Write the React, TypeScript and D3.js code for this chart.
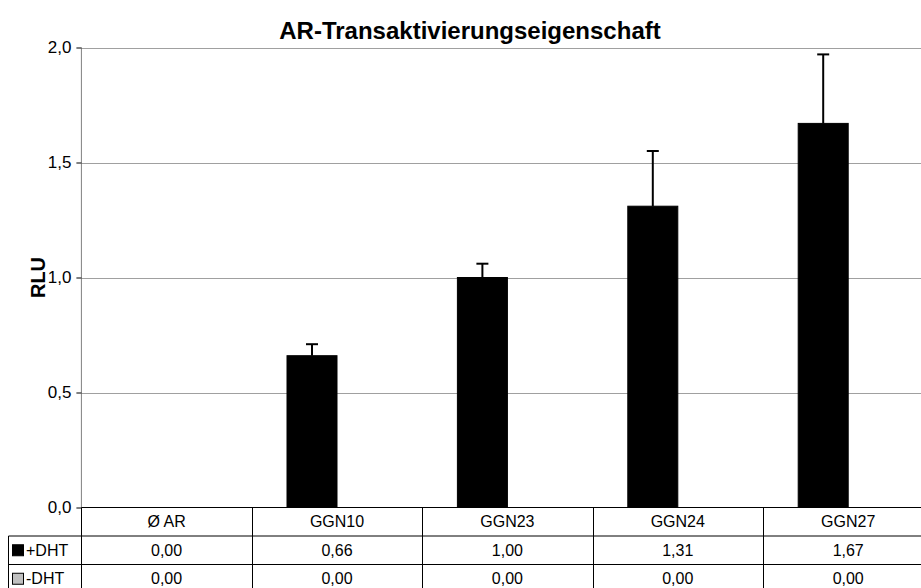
import React, { useEffect, useRef } from 'react';
import * as d3 from 'd3';

const categories = ['Ø AR', 'GGN10', 'GGN23', 'GGN24', 'GGN27'];
const seriesNames = ['+DHT', '-DHT'];
const plusDHT = [0.0, 0.66, 1.0, 1.31, 1.67];
const plusDHTErr = [0.0, 0.05, 0.06, 0.24, 0.3];
const minusDHT = [0.0, 0.0, 0.0, 0.0, 0.0];
const yTicks = [0, 0.5, 1.0, 1.5, 2.0];
const seriesColors = ['#000000', '#c0c0c0'];

const W = 921;
const H = 588;
const font = 'Arial, "Liberation Sans", sans-serif';

export default function App() {
  const ref = useRef<SVGSVGElement | null>(null);

  useEffect(() => {
    const svg = d3.select(ref.current);
    svg.selectAll('*').remove();

    const left = 81.4;
    const right = 933.4;
    const top = 47.5;
    const bottom = 507.5;
    const rowH = 28.5;
    const tableLeft = 8.5;

    const locale = d3.formatLocale({ decimal: ',', thousands: '.', grouping: [3], currency: ['', ''] });
    const fmt1 = locale.format('.1f');
    const fmt2 = locale.format('.2f');

    const x = d3.scaleBand<string>().domain(categories).range([left, right]).paddingInner(0).paddingOuter(0);
    const xs = d3.scaleBand<string>().domain(seriesNames).range([0, x.bandwidth()]).paddingInner(0).paddingOuter(0.704);
    const y = d3.scaleLinear().domain([0, 2]).range([bottom, top]);

    // gridlines
    svg.append('g')
      .selectAll('line')
      .data(yTicks.filter(d => d > 0))
      .enter()
      .append('line')
      .attr('x1', left)
      .attr('x2', right)
      .attr('y1', d => Math.round(y(d)) + 0.5)
      .attr('y2', d => Math.round(y(d)) + 0.5)
      .attr('stroke', '#a0a0a0')
      .attr('stroke-width', 1);

    // y axis
    const yAxis = d3.axisLeft(y).tickValues(yTicks).tickSize(5).tickPadding(5).tickFormat(d => fmt1(d as number));
    const ga = svg.append('g')
      .attr('transform', `translate(${left},0)`)
      .call(yAxis);
    ga.select('.domain').attr('stroke', '#808080').attr('d', `M0,${top}V${bottom}`);
    ga.selectAll('.tick line').attr('stroke', '#000');
    ga.selectAll('.tick text')
      .attr('font-family', font)
      .attr('font-size', 17)
      .attr('fill', '#000');

    // bars
    const series = [plusDHT, minusDHT];
    series.forEach((vals, si) => {
      svg.append('g')
        .selectAll('rect')
        .data(vals)
        .enter()
        .append('rect')
        .attr('x', (d, i) => (x(categories[i]) as number) + (xs(seriesNames[si]) as number))
        .attr('y', d => y(d))
        .attr('width', xs.bandwidth())
        .attr('height', d => y(0) - y(d))
        .attr('fill', seriesColors[si])
        .attr('stroke', '#000')
        .attr('stroke-width', 1);
    });

    // error bars (plus direction only)
    const eg = svg.append('g');
    plusDHT.forEach((v, i) => {
      const e = plusDHTErr[i];
      if (!e) return;
      const cx = (x(categories[i]) as number) + (xs('+DHT') as number) + xs.bandwidth() / 2;
      eg.append('line')
        .attr('x1', cx).attr('x2', cx)
        .attr('y1', y(v)).attr('y2', y(v + e))
        .attr('stroke', '#000').attr('stroke-width', 2);
      eg.append('line')
        .attr('x1', cx - 6).attr('x2', cx + 6)
        .attr('y1', y(v + e)).attr('y2', y(v + e))
        .attr('stroke', '#000').attr('stroke-width', 2);
    });

    // data table
    const tg = svg.append('g');
    const tableBottom = bottom + rowH * 3;
    tg.append('line')
      .attr('x1', left).attr('x2', right)
      .attr('y1', bottom).attr('y2', bottom)
      .attr('stroke', '#000');
    [1, 2].forEach(r => {
      tg.append('line')
        .attr('x1', tableLeft).attr('x2', right)
        .attr('y1', bottom + rowH * r).attr('y2', bottom + rowH * r)
        .attr('stroke', '#000');
    });
    tg.append('line')
      .attr('x1', tableLeft).attr('x2', tableLeft)
      .attr('y1', bottom + rowH).attr('y2', tableBottom)
      .attr('stroke', '#000');
    categories.concat(['end']).forEach((c, i) => {
      const xx = Math.round(left + x.bandwidth() * i) + 0.5;
      tg.append('line')
        .attr('x1', xx).attr('x2', xx)
        .attr('y1', bottom).attr('y2', tableBottom)
        .attr('stroke', '#000');
    });

    tg.selectAll('text.cat')
      .data(categories)
      .enter()
      .append('text')
      .attr('class', 'cat')
      .attr('x', d => (x(d) as number) + x.bandwidth() / 2)
      .attr('y', bottom + rowH / 2)
      .attr('dy', '0.35em')
      .attr('text-anchor', 'middle')
      .attr('font-family', font)
      .attr('font-size', 16)
      .text(d => d);

    series.forEach((vals, si) => {
      const ry = bottom + rowH * (si + 1) + rowH / 2;
      tg.append('g')
        .selectAll('text')
        .data(vals)
        .enter()
        .append('text')
        .attr('x', (d, i) => (x(categories[i]) as number) + x.bandwidth() / 2)
        .attr('y', ry)
        .attr('dy', '0.35em')
        .attr('text-anchor', 'middle')
        .attr('font-family', font)
        .attr('font-size', 16)
        .text(d => fmt2(d));

      // legend key
      tg.append('rect')
        .attr('x', 12.5)
        .attr('y', ry - 5.5)
        .attr('width', 11)
        .attr('height', 11)
        .attr('fill', seriesColors[si])
        .attr('stroke', '#000');
      tg.append('text')
        .attr('x', 26)
        .attr('y', ry)
        .attr('dy', '0.35em')
        .attr('font-family', font)
        .attr('font-size', 16)
        .text(seriesNames[si]);
    });

    // title
    svg.append('text')
      .attr('x', 470)
      .attr('y', 39)
      .attr('text-anchor', 'middle')
      .attr('font-family', font)
      .attr('font-weight', 'bold')
      .attr('font-size', 24)
      .text('AR-Transaktivierungseigenschaft');

    // y axis title
    svg.append('text')
      .attr('transform', `translate(45,${(top + bottom) / 2}) rotate(-90)`)
      .attr('text-anchor', 'middle')
      .attr('font-family', font)
      .attr('font-weight', 'bold')
      .attr('font-size', 20)
      .text('RLU');
  }, []);

  return (
    <div style={{ position: 'absolute', left: 0, top: 0, width: W, height: H, overflow: 'hidden', background: '#fff' }}>
      <svg ref={ref} width={W} height={H} style={{ display: 'block' }} />
    </div>
  );
}
